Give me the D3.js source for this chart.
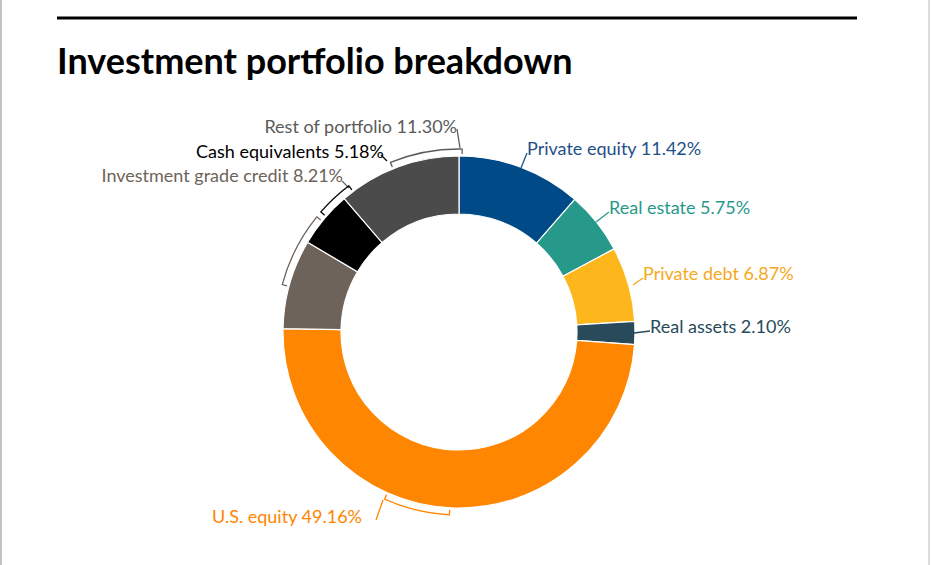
<!DOCTYPE html><html><head><meta charset="utf-8">
<script src="https://cdn.jsdelivr.net/npm/d3@7"></script>
<style>body{margin:0;background:#fff}svg{font-family:Lato,"Open Sans",sans-serif}</style></head><body>
<script>
const categories=["Private equity","Real estate","Private debt","Real assets","U.S. equity","Investment grade credit","Cash equivalents","Rest of portfolio"];
const values=[11.42,5.75,6.87,2.10,49.16,8.21,5.18,11.30];
const labels=["Private equity  11.42%","Real estate 5.75%","Private debt 6.87%","Real assets 2.10%","U.S. equity 49.16%","Investment grade credit 8.21%","Cash equivalents 5.18%","Rest of portfolio 11.30%"];
const colors=["#004b87","#26998a","#fdb71d","#284a5a","#ff8600","#6e635a","#000000","#4b4b4b"];
const textColors=["#1f5089","#26998a","#f6a81a","#284a5a","#ff8600","#6e635a","#000000","#5a5a5a"];
// layout: label anchor, leader endpoints, optional bracket angles (deg)
const layout=[
 {tx:527,ty:155,anchor:"start",line:[[527,153],[521,168]]},
 {tx:609,ty:214,anchor:"start",line:[[609,212],[596,222]]},
 {tx:643,ty:280,anchor:"start",line:[[643,278],[633,285]]},
 {tx:650,ty:333,anchor:"start",line:[[650,331],[634,333]]},
 {tx:212,ty:523,anchor:"start",br:[183,204],line:[[376,520],[383,500]]},
 {tx:343,ty:182,anchor:"end",br:[285,309],line:[[342,181],[349,188]]},
 {tx:384,ty:158,anchor:"end",br:[311,323],line:[[381,155],[387,161]]},
 {tx:457,ty:133,anchor:"end",br:[338,361],line:[[457,129],[460,148]]}
];
const W=932,H=565,cx=459,cy=332,R=176,r0=118;
const svg=d3.select("body").append("svg").attr("width",W).attr("height",H);
svg.append("line").attr("x1",1).attr("x2",1).attr("y1",0).attr("y2",H).attr("stroke","#888");
svg.append("line").attr("x1",929).attr("x2",929).attr("y1",0).attr("y2",H).attr("stroke","#bbb");
svg.append("line").attr("x1",57).attr("x2",857).attr("y1",18).attr("y2",18).attr("stroke","#000").attr("stroke-width",3);
svg.append("text").attr("x",57).attr("y",74).attr("font-size",36).attr("font-weight",700).text("Investment portfolio breakdown");
const pie=d3.pie().sort(null).value(d=>d)(values);
const g=svg.append("g").attr("transform",`translate(${cx},${cy})`);
g.selectAll("path").data(pie).join("path").attr("d",d3.arc().innerRadius(r0).outerRadius(R)).attr("fill",(d,i)=>colors[i]).attr("stroke","#fff").attr("stroke-width",1.2);
const rad=Math.PI/180;
layout.forEach((L,i)=>{
  const c=textColors[i];
  if(L.br){
    const a0=L.br[0]*rad,a1=L.br[1]*rad,rb=183,ri=178;
    const p=(a,rr)=>[cx+rr*Math.sin(a),cy-rr*Math.cos(a)];
    const arc=d3.path();const s=p(a0,ri);arc.moveTo(...s);const q=p(a0,rb);arc.lineTo(...q);
    arc.arc(cx,cy,rb,a0-Math.PI/2,a1-Math.PI/2,false);const e=p(a1,ri);arc.lineTo(...e);
    svg.append("path").attr("d",arc.toString()).attr("fill","none").attr("stroke",c).attr("stroke-width",1.3);
  }
  svg.append("path").attr("d",d3.line()(L.line)).attr("stroke",c).attr("stroke-width",1.3).attr("fill","none");
  svg.append("text").attr("x",L.tx).attr("y",L.ty).attr("text-anchor",L.anchor).attr("font-size",18).attr("fill",c).text(labels[i]);
});
</script></body></html>
